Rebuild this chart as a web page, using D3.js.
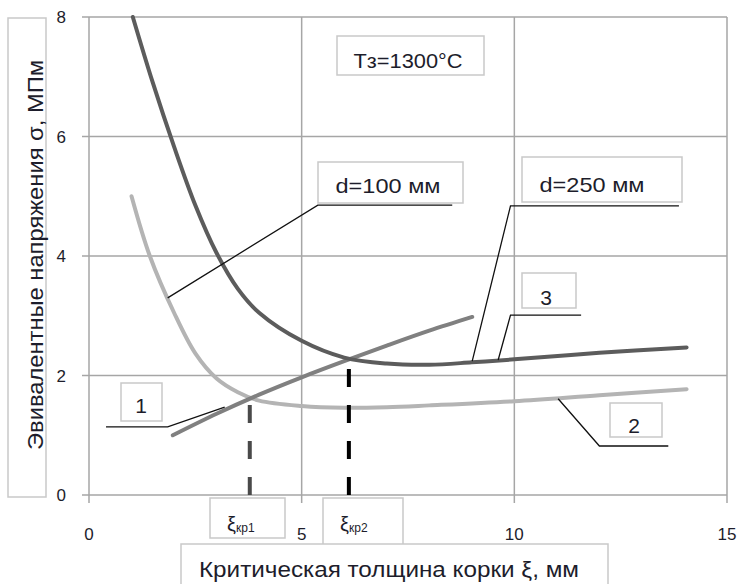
<!DOCTYPE html><html><head><meta charset="UTF-8"><script src="https://d3js.org/d3.v7.min.js"></script><style>
            body { margin: 0; background: #fff; }
            #chart { width: 741px; height: 584px; font-family: "Liberation Sans", Arial, sans-serif; }
            .grid line { stroke: #a6a6a6; stroke-width: 1.5px; }
            .box { fill: #fff; stroke: #c9c9c9; stroke-width: 1.5px; }
            .leader { fill: none; stroke: #111; stroke-width: 1.3px; }
            .lbl { fill: #1d1d2b; }
        </style></head><body><div id="chart"></div><script>
            // x = критическая толщина корки, мм; y = напряжения, МПм
            const xTicks = [0, 5, 10, 15];
            const yTicks = [0, 2, 4, 6, 8];

            // d = 250 мм (тёмная кривая)
            const xiD250 = [1.03, 1.5, 2.0, 2.5, 3.0, 3.5, 4.0, 5.0, 6.0, 7.0, 8.0, 9.0, 10, 12, 14.05];
            const sigmaD250 = [8.0, 6.9, 5.83, 4.85, 4.05, 3.45, 3.05, 2.58, 2.3, 2.2, 2.18, 2.22, 2.27, 2.38, 2.47];

            // d = 100 мм (светлая кривая)
            const xiD100 = [1.0, 1.43, 2.0, 2.5, 3.0, 3.5, 4.0, 5.0, 6.0, 7.0, 8.0, 10, 12, 14.05];
            const sigmaD100 = [5.0, 4.0, 3.05, 2.37, 1.95, 1.72, 1.58, 1.49, 1.46, 1.47, 1.5, 1.57, 1.67, 1.77];

            // кривая 3
            const xi3 = [1.97, 3, 4, 5, 6, 7, 8, 9.01];
            const sigma3 = [1.0, 1.36, 1.68, 1.97, 2.24, 2.5, 2.75, 2.98];

            // критические толщины
            const xiCrit = [3.78, 6.11];
            const sigmaCrit = [1.55, 2.12];

            const fullWidth = 741, fullHeight = 584;
            const margin = {top: 17, left: 89};
            const width = 638, height = 478;

            const svg = d3.select('#chart').append('svg')
                .attr('width', fullWidth)
                .attr('height', fullHeight);

            const x = d3.scaleLinear().domain([0, 15]).range([margin.left, margin.left + width]);
            const y = d3.scaleLinear().domain([0, 8]).range([margin.top + height, margin.top]);

            // сетка
            const grid = svg.append('g').attr('class', 'grid');
            grid.selectAll('.h').data(yTicks).enter().append('line')
                .attr('x1', x(0) - 7).attr('x2', x(15))
                .attr('y1', d => y(d)).attr('y2', d => y(d));
            grid.selectAll('.v').data(xTicks).enter().append('line')
                .attr('x1', d => x(d)).attr('x2', d => x(d))
                .attr('y1', y(8)).attr('y2', y(0) + 8);

            // подписи осей
            svg.append('g').selectAll('text').data(yTicks).enter().append('text')
                .attr('class', 'lbl')
                .attr('x', x(0) - 23).attr('y', d => y(d) + 6)
                .attr('text-anchor', 'end')
                .style('font-size', '17px')
                .text(d => d);
            svg.append('g').selectAll('text').data(xTicks).enter().append('text')
                .attr('class', 'lbl')
                .attr('x', d => x(d)).attr('y', y(0) + 45)
                .attr('text-anchor', 'middle')
                .style('font-size', '17px')
                .text(d => d);

            const line = d3.line().x(d => x(d[0])).y(d => y(d[1])).curve(d3.curveCatmullRom.alpha(0.5));
            const zip = (a, b) => a.map((v, i) => [v, b[i]]);

            svg.append('path').datum(zip(xiD100, sigmaD100))
                .attr('d', line).attr('fill', 'none')
                .attr('stroke', '#b4b4b4').attr('stroke-width', 4).attr('stroke-linecap', 'round');
            svg.append('path').datum(zip(xi3, sigma3))
                .attr('d', line).attr('fill', 'none')
                .attr('stroke', '#808080').attr('stroke-width', 4).attr('stroke-linecap', 'round');
            svg.append('path').datum(zip(xiD250, sigmaD250))
                .attr('d', line).attr('fill', 'none')
                .attr('stroke', '#5c5c5c').attr('stroke-width', 4).attr('stroke-linecap', 'round');

            // пунктир
            svg.selectAll('.crit').data(xiCrit).enter().append('line')
                .attr('x1', d => x(d)).attr('x2', d => x(d))
                .attr('y1', y(0)).attr('y2', (d, i) => y(sigmaCrit[i]))
                .attr('stroke', (d, i) => i ? '#000' : '#4a4a4a')
                .attr('stroke-width', 4)
                .attr('stroke-dasharray', '18,18');

            // выноски (в координатах данных)
            const leaders = [
                [[8.54, 4.85], [5.38, 4.85], [1.85, 3.30]],
                [[13.87, 4.84], [9.91, 4.84], [9.01, 2.24]],
                [[11.57, 3.01], [9.91, 3.01], [9.62, 2.26]],
                [[0.40, 1.14], [1.85, 1.14], [3.19, 1.47]],
                [[13.62, 0.82], [12.0, 0.82], [11.03, 1.61]]
            ];
            const straight = d3.line().x(d => x(d[0])).y(d => y(d[1]));
            svg.selectAll('.leader').data(leaders).enter().append('path')
                .attr('class', 'leader').attr('d', straight);

            // надписи в рамках
            const labels = [
                {t: 'Tз=1300°C', x0: 337, y0: 36, w: 147, h: 39, tx: 408, ty: 68, fs: 21, len: 109},
                {t: 'd=100 мм', x0: 318, y0: 162, w: 145, h: 41, tx: 388, ty: 193, fs: 21, len: 105},
                {t: 'd=250 мм', x0: 522, y0: 157, w: 160, h: 45, tx: 592, ty: 192, fs: 21, len: 105},
                {t: '3', x0: 522, y0: 273, w: 54, h: 35, tx: 546, ty: 305, fs: 21},
                {t: '1', x0: 121, y0: 383, w: 41, h: 38, tx: 141, ty: 413, fs: 21},
                {t: '2', x0: 610, y0: 403, w: 52, h: 34, tx: 634, ty: 433, fs: 21}
            ];
            labels.forEach(l => {
                svg.append('rect').attr('class', 'box')
                    .attr('x', l.x0).attr('y', l.y0).attr('width', l.w).attr('height', l.h);
                const t = svg.append('text').attr('class', 'lbl')
                    .attr('x', l.tx).attr('y', l.ty)
                    .attr('text-anchor', 'middle')
                    .style('font-size', l.fs + 'px')
                    .text(l.t);
                if (l.len) t.attr('textLength', l.len).attr('lengthAdjust', 'spacingAndGlyphs');
            });

            // ξкр
            const critLabels = [
                {sub: 'кр1', x0: 210, w: 75, h: 40, tx: 227},
                {sub: 'кр2', x0: 323, w: 80, h: 50, tx: 340}
            ];
            critLabels.forEach(c => {
                svg.append('rect').attr('class', 'box')
                    .attr('x', c.x0).attr('y', 498).attr('width', c.w).attr('height', c.h);
                const t = svg.append('text').attr('class', 'lbl')
                    .attr('x', c.tx).attr('y', 531).style('font-size', '20px');
                t.append('tspan').text('ξ');
                t.append('tspan').style('font-size', '12px').attr('dy', 1).text(c.sub);
            });

            // заголовки осей
            svg.append('rect').attr('class', 'box')
                .attr('x', 181).attr('y', 544).attr('width', 427).attr('height', 60);
            svg.append('text').attr('class', 'lbl')
                .attr('x', 389).attr('y', 577)
                .attr('text-anchor', 'middle')
                .style('font-size', '22px')
                .attr('textLength', 380).attr('lengthAdjust', 'spacingAndGlyphs')
                .text('Критическая толщина корки  ξ, мм');

            svg.append('rect').attr('class', 'box')
                .attr('x', 8).attr('y', 18).attr('width', 38).attr('height', 479);
            svg.append('text').attr('class', 'lbl')
                .attr('transform', 'translate(43,255) rotate(-90)')
                .attr('text-anchor', 'middle')
                .style('font-size', '22px')
                .attr('textLength', 390).attr('lengthAdjust', 'spacingAndGlyphs')
                .text('Эвивалентные напряжения σ, МПм');
        </script></body></html>
